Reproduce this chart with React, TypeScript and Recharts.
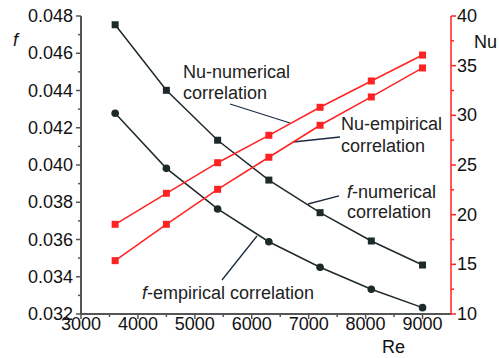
import React from 'react';
import { LineChart, Line, XAxis, YAxis, ReferenceLine } from 'recharts';

const reValues = [3600, 4500, 5400, 6300, 7200, 8100, 9000];
const fNumerical = [0.04753, 0.04401, 0.04133, 0.03919, 0.03744, 0.03592, 0.03463];
const fEmpirical = [0.04278, 0.03982, 0.03764, 0.03588, 0.03451, 0.03333, 0.03234];
const nuNumerical = [19.03, 22.15, 25.23, 27.99, 30.81, 33.46, 36.07];
const nuEmpirical = [15.37, 19.03, 22.55, 25.78, 29.0, 31.85, 34.77];

const reTicks = [3000, 3500, 4000, 4500, 5000, 5500, 6000, 6500, 7000, 7500, 8000, 8500, 9000];
const fTicks = [0.032, 0.033, 0.034, 0.035, 0.036, 0.037, 0.038, 0.039, 0.04, 0.041, 0.042, 0.043, 0.044, 0.045, 0.046, 0.047, 0.048];
const nuTicks = [10, 12.5, 15, 17.5, 20, 22.5, 25, 27.5, 30, 32.5, 35, 37.5, 40];

// leader lines for the annotations, in (Re, f) coordinates
const leaders = [
  { name: 'Nu-numerical', from: [5618, 0.043275], to: [6672, 0.042255] },
  { name: 'Nu-empirical', from: [7550, 0.041503], to: [6725, 0.041235] },
  { name: 'f-numerical', from: [7533, 0.038336], to: [6988, 0.037906] },
  { name: 'f-empirical', from: [5477, 0.033826], to: [6092, 0.036188] },
];

const data = reValues.map((re, i) => ({
  re,
  fNum: fNumerical[i],
  fEmp: fEmpirical[i],
  nuNum: nuNumerical[i],
  nuEmp: nuEmpirical[i],
}));

const FONT = '"Liberation Sans", Arial, sans-serif';
const BLACK = '#1e2a2a';
const RED = '#ff2222';
const AXIS = '#555';

const BottomTick = (props: any) => {
  const { x, y, payload } = props;
  const major = payload.value % 1000 === 0;
  return (
    <g>
      <line x1={x} x2={x} y1={y} y2={y + (major ? 5 : 3)} stroke={AXIS} strokeWidth={1.5} />
      {major && (
        <text x={x} y={y + 16} textAnchor="middle" fontSize={18} fontFamily={FONT} fill="#111">
          {payload.value}
        </text>
      )}
    </g>
  );
};

const TopTick = (props: any) => {
  const { x, y } = props;
  return <line x1={x} x2={x} y1={y} y2={y + 4} stroke={AXIS} strokeWidth={1.5} />;
};

const LeftTick = (props: any) => {
  const { x, y, payload } = props;
  const major = Math.round(payload.value * 1000) % 2 === 0;
  return (
    <g>
      <line x1={x} x2={x - (major ? 5 : 3)} y1={y} y2={y} stroke={AXIS} strokeWidth={1.5} />
      {major && (
        <text x={x - 8} y={y + 6} textAnchor="end" fontSize={18} fontFamily={FONT} fill="#111">
          {payload.value.toFixed(3)}
        </text>
      )}
    </g>
  );
};

const RightTick = (props: any) => {
  const { x, y, payload } = props;
  const major = payload.value % 5 === 0;
  return (
    <g>
      <line x1={x} x2={x + (major ? 5 : 3)} y1={y} y2={y} stroke={RED} strokeWidth={1.5} />
      {major && (
        <text x={x + 6} y={y + 6} textAnchor="start" fontSize={18} fontFamily={FONT} fill="#111">
          {payload.value}
        </text>
      )}
    </g>
  );
};

const SquareDot = (color: string) => (props: any) => {
  const { cx, cy, index } = props;
  return <rect key={index} x={cx - 3.5} y={cy - 3.5} width={7} height={7} fill={color} />;
};

const CircleDot = (props: any) => {
  const { cx, cy, index } = props;
  return <circle key={index} cx={cx} cy={cy} r={3.8} fill={BLACK} />;
};

const textStyle = { fontSize: 18, fontFamily: FONT, fill: '#222' };

export default function App() {
  return (
    <div style={{ position: 'absolute', left: 0, top: 0, width: 499, height: 358, background: '#fff' }}>
      <LineChart width={499} height={358} data={data} margin={{ top: 16, right: 0, bottom: 0, left: 0 }}>
        <XAxis
          xAxisId="b"
          dataKey="re"
          type="number"
          domain={[3000, 9500]}
          ticks={reTicks}
          interval={0}
          height={44}
          tickSize={0}
          tickMargin={0}
          tickLine={false}
          tick={<BottomTick />}
          axisLine={{ stroke: AXIS, strokeWidth: 2 }}
        />
        <XAxis
          xAxisId="t"
          orientation="top"
          dataKey="re"
          type="number"
          domain={[3000, 9500]}
          ticks={reTicks}
          interval={0}
          height={0}
          tickSize={0}
          tickMargin={0}
          tickLine={false}
          tick={<TopTick />}
          axisLine={{ stroke: AXIS, strokeWidth: 2 }}
        />
        <YAxis
          yAxisId="f"
          type="number"
          domain={[0.032, 0.048]}
          ticks={fTicks}
          interval={0}
          width={81}
          tickSize={0}
          tickMargin={0}
          tickLine={false}
          tick={<LeftTick />}
          axisLine={{ stroke: AXIS, strokeWidth: 2 }}
        />
        <YAxis
          yAxisId="nu"
          orientation="right"
          type="number"
          domain={[10, 40]}
          ticks={nuTicks}
          interval={0}
          width={48}
          tickSize={0}
          tickMargin={0}
          tickLine={false}
          tick={<RightTick />}
          axisLine={{ stroke: RED, strokeWidth: 1.5 }}
        />
        {leaders.map((l) => (
          <ReferenceLine
            key={l.name}
            xAxisId="b"
            yAxisId="f"
            segment={[
              { x: l.from[0], y: l.from[1] },
              { x: l.to[0], y: l.to[1] },
            ]}
            stroke="#1a2a40"
            strokeWidth={1.3}
          />
        ))}
        <Line xAxisId="b" yAxisId="f" dataKey="fNum" stroke={BLACK} strokeWidth={1.5} dot={SquareDot(BLACK)} isAnimationActive={false} />
        <Line xAxisId="b" yAxisId="f" dataKey="fEmp" stroke={BLACK} strokeWidth={1.5} dot={CircleDot} isAnimationActive={false} />
        <Line xAxisId="b" yAxisId="nu" dataKey="nuNum" stroke={RED} strokeWidth={1.5} dot={SquareDot(RED)} isAnimationActive={false} />
        <Line xAxisId="b" yAxisId="nu" dataKey="nuEmp" stroke={RED} strokeWidth={1.5} dot={SquareDot(RED)} isAnimationActive={false} />
      </LineChart>
      <svg width={499} height={358} style={{ position: 'absolute', left: 0, top: 0, pointerEvents: 'none' }}>
        <text x={13} y={46} {...textStyle} fontStyle="italic" fill="#111">f</text>
        <text x={474} y={48} {...textStyle} fill="#111">Nu</text>
        <text x={382} y={353} {...textStyle} fill="#111">Re</text>
        <text x={183} y={78} {...textStyle}>Nu-numerical</text>
        <text x={183} y={99} {...textStyle}>correlation</text>
        <text x={341} y={130} {...textStyle}>Nu-empirical</text>
        <text x={341} y={152} {...textStyle}>correlation</text>
        <text x={347} y={198} {...textStyle}>
          <tspan fontStyle="italic">f</tspan>-numerical
        </text>
        <text x={347} y={218} {...textStyle}>correlation</text>
        <text x={142} y={299} {...textStyle}>
          <tspan fontStyle="italic">f</tspan>-empirical correlation
        </text>
      </svg>
    </div>
  );
}
